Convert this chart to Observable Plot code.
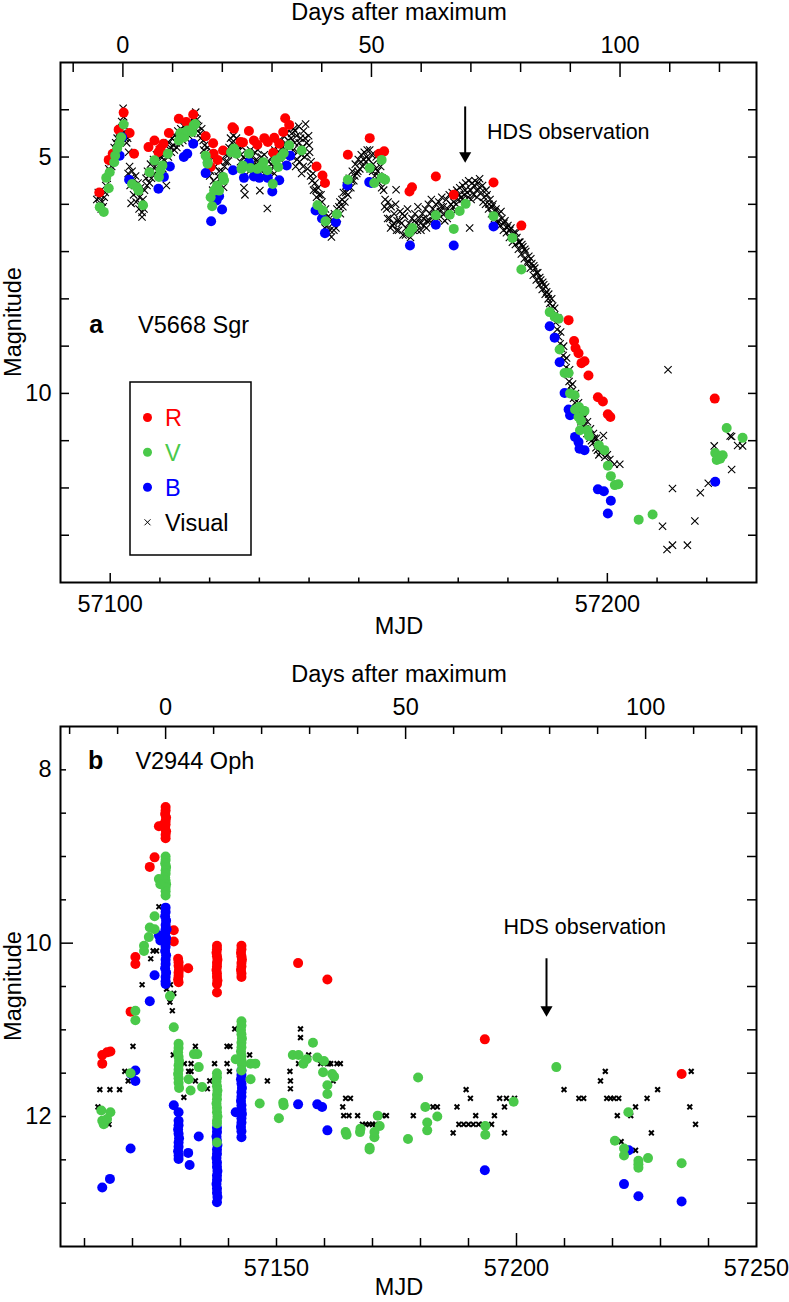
<!DOCTYPE html>
<html><head><meta charset="utf-8">
<script src="https://cdn.jsdelivr.net/npm/d3@7"></script>
<script src="https://cdn.jsdelivr.net/npm/@observablehq/plot@0.6"></script>
<style>
body{margin:0;background:#fff;}
#wrap{position:relative;width:789px;height:1302px;}
#pa,#pb{position:absolute;left:0;}
#pa{top:0;}#pb{top:652px;}
#ov{position:absolute;left:0;top:0;pointer-events:none;}
</style></head><body>
<div id="wrap"><div id="pa"></div><div id="pb"></div>
<svg id="ov" width="789" height="1302" font-family="Liberation Sans, Arial, sans-serif" font-size="23.5">
<text x="399" y="20" text-anchor="middle">Days after maximum</text>
<text x="399" y="634" text-anchor="middle">MJD</text>
<text transform="translate(21,322) rotate(-90)" text-anchor="middle">Magnitude</text>
<text x="399" y="682" text-anchor="middle">Days after maximum</text>
<text x="399" y="1295" text-anchor="middle">MJD</text>
<text transform="translate(21,986) rotate(-90)" text-anchor="middle">Magnitude</text>
<rect x="130" y="382" width="121" height="173" fill="none" stroke="black" stroke-width="1.5"/>
<circle cx="147.5" cy="417.5" r="4.5" fill="#ff0000"/><text x="165" y="426" fill="#ff0000">R</text>
<circle cx="147.5" cy="452.3" r="4.5" fill="#4ac94a"/><text x="165" y="461" fill="#4ac94a">V</text>
<circle cx="147.5" cy="487.3" r="4.5" fill="#0000ff"/><text x="165" y="496" fill="#0000ff">B</text>
<path d="M144.5,519.3L150.5,525.3M150.5,519.3L144.5,525.3" stroke="black" stroke-width="1"/><text x="165" y="531" fill="black">Visual</text>
</svg></div>
<script>
const RED = "#ff0000", GREEN = "#4ac94a", BLUE = "#0000ff";

// ---------- Panel a: V5668 Sgr ----------
const aT0 = 57102.55;
const aR = [[57097.8,5.75],[57099.7,5.06],[57100.5,4.93],[57101.7,4.42],[57102.7,4.06],[57103.9,4.49],[57104.8,4.93],[57107.7,4.79],[57108.9,4.65],[57109.7,4.9],[57110.1,4.82],[57110.7,4.72],[57111.8,4.49],[57113.8,4.19],[57115.3,4.26],[57116.7,4.1],[57119.2,4.56],[57120.2,5.21],[57120.7,4.71],[57120.8,4.93],[57121.6,5.06],[57122.7,4.86],[57124.6,4.37],[57124.9,4.4],[57126.2,4.68],[57126.7,4.69],[57127.9,4.45],[57128.9,4.65],[57129.6,4.74],[57131.0,4.6],[57131.7,4.68],[57132.8,4.91],[57133.0,4.59],[57134.0,4.72],[57134.8,4.47],[57135.2,4.18],[57136.0,4.32],[57141.5,5.2],[57142.7,5.39],[57143.2,5.55],[57147.8,4.95],[57152.2,4.6],[57154.1,4.93],[57155.1,4.88],[57160.2,5.73],[57160.7,5.64],[57165.5,5.41],[57169.1,5.8],[57177.1,5.54],[57182.7,6.45],[57192.2,8.45],[57193.3,8.89],[57193.6,9.04],[57194.2,9.15],[57194.8,9.36],[57195.4,9.32],[57196.2,9.62],[57198.1,10.08],[57199.1,10.17],[57200.1,10.44],[57200.6,10.5],[57221.6,10.11]];
const aV = [[57097.9,6.06],[57098.7,6.16],[57099.2,5.44],[57099.7,5.66],[57099.9,5.32],[57100.8,5.11],[57101.0,4.97],[57101.4,4.82],[57101.9,4.71],[57102.2,4.58],[57102.7,4.31],[57104.4,5.57],[57105.4,5.64],[57105.7,5.71],[57106.6,6.02],[57107.9,5.32],[57108.9,5.07],[57109.8,5.42],[57110.1,5.28],[57110.5,5.18],[57111.6,4.93],[57113.8,4.65],[57114.1,4.49],[57114.9,4.58],[57115.5,4.44],[57116.5,4.47],[57116.8,4.33],[57117.1,4.3],[57119.2,4.97],[57119.6,5.11],[57119.6,5.14],[57120.2,5.85],[57120.5,6.04],[57120.9,5.71],[57121.5,5.6],[57121.9,5.71],[57122.7,5.42],[57122.9,5.49],[57124.3,4.9],[57124.9,4.82],[57125.4,4.93],[57126.4,5.25],[57126.7,5.18],[57127.9,4.93],[57128.2,5.23],[57129.6,5.25],[57130.2,5.21],[57130.8,5.11],[57131.6,5.28],[57132.7,5.57],[57133.3,5.07],[57133.8,5.21],[57134.3,5.0],[57134.9,4.92],[57136.0,4.75],[57138.5,4.86],[57141.7,6.02],[57142.8,6.13],[57143.3,6.36],[57145.6,6.21],[57147.8,5.48],[57152.2,5.23],[57153.1,5.55],[57154.6,5.44],[57154.6,5.06],[57155.3,5.48],[57160.2,6.59],[57160.8,6.5],[57165.5,6.23],[57168.3,6.22],[57169.1,6.52],[57170.3,6.14],[57171.5,5.99],[57177.1,6.25],[57180.9,6.71],[57182.7,7.38],[57188.4,8.28],[57189.4,8.38],[57190.2,8.42],[57190.4,9.07],[57191.4,9.57],[57192.2,9.57],[57192.5,10.0],[57193.4,10.04],[57193.5,10.34],[57194.3,10.29],[57195.4,10.37],[57194.2,10.5],[57194.7,10.58],[57194.5,10.78],[57196.0,10.78],[57196.3,10.9],[57198.3,11.1],[57199.4,11.2],[57200.1,11.53],[57200.7,11.75],[57201.5,11.94],[57202.2,11.92],[57206.3,12.67],[57209.1,12.56],[57221.7,11.26],[57222.0,11.41],[57222.7,11.38],[57223.2,11.31],[57224.0,10.73],[57227.2,10.94]];
const aB = [[57101.9,4.97],[57102.4,4.58],[57103.8,5.48],[57109.7,5.67],[57110.8,5.42],[57112.0,5.2],[57114.8,5.0],[57115.5,4.93],[57116.7,4.72],[57119.2,5.34],[57120.3,6.36],[57121.4,5.92],[57121.9,5.83],[57122.5,6.11],[57124.7,5.28],[57126.9,5.44],[57127.9,5.11],[57128.9,5.41],[57130.0,5.44],[57131.7,5.44],[57132.6,5.73],[57134.0,5.49],[57135.5,5.18],[57136.2,4.97],[57141.3,6.13],[57142.6,6.3],[57143.2,6.61],[57145.4,6.38],[57147.7,5.6],[57152.1,5.53],[57152.5,5.55],[57160.3,6.87],[57165.5,6.43],[57169.1,6.87],[57177.1,6.47],[57188.4,8.58],[57189.4,8.82],[57190.4,9.34],[57191.4,9.99],[57192.2,10.34],[57192.5,10.46],[57193.5,10.92],[57194.2,11.03],[57194.4,11.17],[57195.4,11.2],[57198.1,12.03],[57199.3,12.07],[57200.7,12.27],[57200.1,12.54],[57221.7,11.87]];
const aVisual = [[57097.6,5.75],[57097.7,6.0],[57097.9,5.85],[57098.2,6.1],[57098.4,5.95],[57098.8,5.85],[57099.1,5.6],[57099.4,5.45],[57099.7,5.25],
[57100.2,5.1],[57100.5,4.95],[57100.8,4.8],[57101.1,4.7],[57101.4,4.6],[57101.7,4.5],[57102.0,4.4],[57102.3,4.25],[57102.6,3.97],[57102.7,4.15],[57102.9,4.35],[57103.1,4.5],[57103.3,4.7],[57103.5,4.6],
[57103.7,4.9],[57103.9,5.2],[57104.1,5.45],[57104.2,5.98],[57104.4,5.3],[57104.6,5.5],[57104.9,5.6],[57105.1,5.4],[57105.3,5.75],[57105.6,5.55],[57105.9,5.85],[57106.1,5.65],[57106.4,6.17],[57106.4,6.27],[57106.6,5.9],[57106.9,5.7],[57107.2,5.45],
[57107.5,5.3],[57107.8,5.4],[57108.1,5.15],[57108.4,5.3],[57108.7,5.05],[57109.0,5.2],[57109.3,4.95],[57109.6,5.1],[57109.9,4.85],[57110.2,5.0],[57110.5,4.85],[57110.8,5.05],[57111.1,4.75],[57111.3,5.6],[57111.5,4.9],[57111.8,4.7],
[57112.1,4.8],[57112.4,4.6],[57112.7,4.75],[57113.0,4.55],[57113.3,4.7],[57113.6,4.45],[57113.9,4.6],[57114.2,4.4],[57114.5,4.55],[57114.8,4.35],[57115.1,4.5],[57115.4,4.3],[57115.7,4.45],[57116.0,4.25],[57116.3,4.4],[57116.6,4.2],[57116.9,4.15],[57117.2,4.05],[57117.5,4.2],[57117.8,4.35],[57118.1,4.5],[57118.4,4.4],[57118.7,4.65],
[57119.0,4.75],[57119.3,4.9],[57119.6,4.8],[57119.9,5.1],[57120.2,5.3],[57120.5,5.0],[57120.8,5.5],[57121.1,5.2],[57121.4,5.7],[57121.7,5.4],[57122.0,5.1],[57122.3,5.5],[57122.8,5.64],[57123.0,5.2],[57123.3,4.95],[57123.6,5.1],
[57123.9,4.8],[57124.2,4.6],[57124.5,4.7],[57124.8,4.55],[57125.1,4.75],[57125.4,4.6],[57125.7,4.85],[57126.0,4.7],[57126.3,4.95],[57126.6,4.8],[57126.9,5.65],[57127.1,5.8],[57127.3,5.05],[57127.6,4.9],
[57127.9,5.1],[57128.2,4.85],[57128.5,5.0],[57128.8,5.15],[57129.1,4.9],[57129.4,5.05],[57129.7,4.85],[57130.0,5.2],[57130.1,5.71],[57130.4,5.0],[57130.7,5.15],[57131.0,4.95],[57131.3,5.25],[57131.6,6.09],[57131.9,5.1],[57132.2,5.3],[57132.5,5.0],[57132.8,5.2],[57133.1,4.85],[57133.4,5.0],[57133.7,4.75],[57134.0,4.9],[57134.3,4.65],[57134.6,4.8],[57134.9,4.55],[57135.2,4.7],
[57135.5,4.5],[57135.8,4.65],[57136.0,4.35],[57136.2,4.8],[57136.5,4.5],[57136.7,5.0],[57136.9,4.4],[57137.1,4.7],[57137.3,5.2],[57137.5,4.55],[57137.7,4.9],[57137.9,4.35],[57138.1,5.1],[57138.3,4.6],[57138.5,5.35],[57138.7,4.8],[57138.9,4.45],[57139.1,5.0],[57139.3,4.3],[57139.5,4.7],[57139.7,5.25],[57139.9,4.55],[57140.1,4.9],[57140.3,5.4],
[57140.6,5.5],[57140.9,5.7],[57141.2,5.55],[57141.5,5.85],[57141.8,5.65],[57142.1,6.0],[57142.4,5.8],[57142.7,6.15],[57143.0,6.3],[57143.3,6.1],[57143.6,6.45],[57143.9,6.25],[57144.2,6.55],[57144.5,6.69],[57144.8,6.4],[57145.1,6.2],[57145.4,6.5],[57145.7,6.3],[57146.0,6.05],[57146.3,6.2],[57146.6,5.9],
[57146.9,5.75],[57147.2,5.95],[57147.5,5.6],[57147.8,5.8],[57148.1,5.45],[57148.4,5.65],[57148.7,5.3],[57149.0,5.5],[57149.3,5.15],[57149.6,5.35],[57149.9,5.05],[57150.2,5.25],[57150.5,4.95],[57150.8,5.2],[57151.1,4.9],[57151.4,5.1],[57151.7,4.85],[57152.0,5.05],[57152.3,5.25],[57152.6,4.95],[57152.9,5.15],[57153.2,5.4],[57153.5,5.0],[57153.8,5.3],[57154.1,5.55],[57154.4,5.2],[57154.7,5.45],[57155.0,5.7],
[57155.3,5.9],[57155.6,6.1],[57155.9,5.95],[57156.2,6.3],[57156.5,6.05],[57156.8,6.45],[57157.1,6.2],[57157.4,6.0],[57157.5,5.69],[57157.7,6.35],[57158.0,6.55],[57158.3,6.15],[57158.6,6.4],[57158.9,6.65],[57159.2,6.25],[57159.5,6.5],[57159.8,6.1],[57160.1,6.4],[57160.4,6.7],[57160.7,6.3],[57161.0,6.55],[57161.3,6.2],[57161.6,6.4],[57161.9,6.05],
[57162.2,6.3],[57162.5,6.55],[57162.8,6.2],[57163.1,6.45],[57163.4,6.1],[57163.7,6.35],[57164.0,6.0],[57164.3,6.2],[57164.6,5.9],[57164.9,6.1],[57165.2,6.3],[57165.5,6.0],[57165.8,6.2],[57166.1,5.95],[57166.4,6.15],[57166.7,5.85],[57167.0,6.05],[57167.3,6.35],[57167.6,5.9],[57167.9,6.1],[57168.2,5.8],[57168.5,6.0],[57168.8,5.75],[57169.1,5.95],[57169.4,6.15],[57169.7,5.7],[57170.0,5.9],
[57170.3,5.65],[57170.6,5.85],[57170.9,5.6],[57171.2,5.8],[57171.5,5.55],[57171.8,5.75],[57172.1,5.5],[57172.3,6.5],[57172.5,5.7],[57172.8,5.55],[57173.1,5.8],[57173.4,5.5],[57173.7,5.7],[57174.0,5.55],[57174.3,5.46],[57174.6,5.75],[57174.9,5.6],[57175.2,5.85],[57175.5,6.0],[57175.8,5.8],
[57176.1,6.1],[57176.4,5.9],[57176.7,6.2],[57177.0,6.0],[57177.3,6.3],[57177.6,6.1],[57177.9,6.4],[57178.2,6.2],[57178.5,6.45],[57178.8,6.3],[57179.1,6.55],[57179.4,6.35],[57179.7,6.6],[57180.0,6.45],[57180.3,6.7],[57180.6,6.5],[57180.9,6.8],[57181.2,6.6],[57181.5,6.85],[57181.8,6.7],[57182.1,6.95],[57182.4,6.8],[57182.7,7.05],[57183.0,6.9],[57183.3,7.15],[57183.6,7.0],[57183.9,7.25],[57184.2,7.1],[57184.5,7.35],[57184.8,7.25],[57185.1,7.5],[57185.4,7.35],[57185.7,7.6],[57186.0,7.45],[57186.3,7.7],[57186.6,7.6],[57186.9,7.8],[57187.2,7.7],[57187.5,7.9],[57187.8,7.85],[57188.1,8.0],[57188.4,8.1],[57188.7,8.2],[57189.0,8.15],[57189.3,8.35],[57189.6,8.5],
[57189.9,8.65],[57190.2,8.8],[57190.5,8.95],[57190.8,9.05],[57191.1,9.2],[57191.4,9.3],[57191.7,9.45],[57192.0,9.6],[57192.3,9.75],[57192.6,9.85],[57192.9,9.95],[57193.2,10.1],[57193.5,10.2],[57193.8,10.3],[57194.1,10.4],[57194.4,10.5],[57194.7,10.6],[57195.0,10.55],[57195.3,10.7],[57195.6,10.75],[57195.9,10.85],[57196.2,10.8],[57196.5,10.95],[57196.8,11.0],[57197.1,11.05],[57197.4,10.95],[57197.7,11.15],[57198.0,11.2],[57198.3,11.3],[57198.6,11.25],[57199.2,10.89],[57199.5,11.35],[57200.0,11.3],[57200.5,11.4],[57201.4,11.5],[57202.5,11.5],
[57211.1,12.81],[57212.0,13.3],[57212.2,9.5],[57213.1,12.01],[57213.1,13.21],[57216.1,13.21],[57217.6,12.7],[57218.7,12.1],[57220.3,11.9],[57221.5,11.11],[57224.7,10.9],[57225.0,10.91],[57225.0,11.61],[57226.2,11.1],[57227.2,11.11],
[57097.3,5.9],[57098.0,5.8],[57098.6,6.05],[57099.0,5.75],[57100.0,5.3],[57100.3,5.2],[57101.2,4.9],[57101.9,4.6],[57102.4,4.5],[57103.0,4.6],[57103.6,5.35],[57104.0,5.6],[57104.7,5.8],[57105.2,5.95],[57105.8,6.1],[57106.2,6.0],[57106.8,6.1],[57107.4,5.6],[57107.9,5.55],[57108.3,5.45],[57108.9,5.35],[57109.5,5.3],[57110.0,5.15],[57110.6,5.25],[57111.0,4.95],[57111.7,5.0],[57112.3,4.9],[57112.9,4.85],[57113.4,4.8],[57114.0,4.7],[57114.6,4.65],[57115.2,4.6],[57115.8,4.55],[57116.4,4.5],[57117.0,4.3],[57117.6,4.45],[57118.2,4.6],[57118.8,4.85],[57119.4,5.05],[57120.0,5.4],[57120.6,5.7],[57121.2,5.55],[57121.9,5.3],[57122.5,5.3],[57123.2,5.1],[57123.8,4.95],[57124.4,4.85],[57125.0,4.9],[57125.6,4.75],[57126.2,5.1],[57126.8,5.0],[57127.5,5.25],[57128.0,5.3],[57128.6,5.2],[57129.2,5.3],[57129.8,5.1],[57130.5,5.3],[57131.1,5.35],[57131.8,5.4],[57132.4,5.15],[57133.0,5.35],[57133.6,5.1],[57134.2,5.05],[57134.8,4.95],[57135.4,4.85],[57135.9,4.95],[57136.4,4.6],[57136.8,4.85],[57137.2,4.45],[57137.6,5.05],[57138.0,4.7],[57138.4,4.95],[57138.8,5.2],[57139.2,4.6],[57139.6,4.95],[57140.0,4.75],[57140.4,5.1],[57140.8,5.35],[57141.4,5.7],[57142.0,5.8],[57142.6,5.95],[57143.2,6.5],[57143.8,6.6],[57144.4,6.35],[57145.0,6.55],[57145.6,6.1],[57146.2,5.95],[57146.8,6.05],[57147.4,5.75],[57148.0,5.65],[57148.6,5.5],[57149.2,5.4],[57149.8,5.3],[57150.4,5.1],[57151.0,5.05],[57151.6,5.0],[57152.2,4.85],[57152.8,5.3],[57153.4,5.25],[57154.0,5.4],[57154.6,5.65],[57155.2,6.05],[57155.8,6.3],[57156.4,6.5],[57157.0,6.4],[57157.6,6.55],[57158.2,6.35],[57158.8,6.2],[57159.4,6.65],[57160.0,6.55],[57160.6,6.5],[57161.2,6.35],[57161.8,6.55],[57162.4,6.4],[57163.0,6.3],[57163.6,6.5],[57164.2,6.35],[57164.8,6.25],[57165.4,6.15],[57166.0,6.3],[57166.6,6.05],[57167.2,6.2],[57167.8,6.3],[57168.4,6.15],[57169.0,6.05],[57169.6,6.0],[57170.2,5.8],[57170.8,5.9],[57171.4,5.7],[57172.0,5.85],[57172.6,5.9],[57173.2,5.6],[57173.8,5.85],[57174.4,5.65],[57175.0,5.95],[57175.6,5.7],[57176.2,6.0],[57176.8,6.05],[57177.4,6.15],[57178.0,6.35],[57178.6,6.15],[57179.2,6.4],[57179.8,6.5],[57180.4,6.55],[57181.0,6.65],[57181.6,6.6],[57182.2,6.8],[57182.8,6.85],[57183.4,6.95],[57184.0,7.2],[57184.6,7.15],[57185.2,7.3],[57185.8,7.45],[57186.4,7.55],[57187.0,7.65],[57187.6,7.75],[57188.2,7.9],[57188.8,8.0],[57189.4,8.2],[57190.0,8.4],[57190.6,8.7],[57191.2,9.0],[57191.8,9.25],[57192.4,9.5],[57193.0,9.8],[57193.6,10.0],[57194.2,10.2],[57194.8,10.35],[57195.4,10.5],[57196.0,10.6],[57196.6,10.75],[57197.2,10.85],[57197.8,10.95],[57198.4,11.05]];

const aMjdMinor = [57110,57120,57130,57140,57150,57160,57170,57180,57190,57210,57220];
const aMjdMajor = [57100,57200];
const aDayMinor = [-10,10,20,30,40,60,70,80,90,110,120];
const aDayMajor = [0,50,100];
const aMagTicks = [4,5,6,7,8,9,10,11,12,13];
const aMagLabels = [5,10];
const aHds = {x: 57171.4, y1: 3.94, tip: 5.12, tx: 57175.8, ty: 4.48};
const aName = {x: 57097.2, y: 8.56, nx: 57105.6, letter: "a", name: "V5668 Sgr"};

// ---------- Panel b: V2944 Oph ----------
const bT0 = 57126.9;
const bR = [[57126.9,8.43],[57126.9,8.47],[57126.8,8.51],[57127.0,8.55],[57126.9,8.59],[57126.9,8.63],[57126.8,8.67],[57127.0,8.71],[57126.9,8.75],[57126.9,8.79],[57125.5,8.65],[57126.3,8.64],
[57124.6,9.01],[57123.6,9.12],[57120.6,10.16],[57120.6,10.24],[57119.6,10.79],[57113.7,11.29],[57114.7,11.26],[57115.4,11.25],[57113.7,11.39],[57128.6,9.85],[57128.6,9.98],
[57129.5,10.18],[57129.6,10.22],[57129.6,10.26],[57129.7,10.3],[57129.6,10.34],[57129.6,10.38],[57129.5,10.42],[57129.6,10.45],[57131.6,10.29],
[57137.6,10.03],[57137.6,10.07],[57137.5,10.11],[57137.6,10.15],[57137.7,10.19],[57137.6,10.23],[57137.6,10.27],[57137.5,10.31],[57137.6,10.35],[57137.6,10.39],[57137.7,10.43],[57137.6,10.47],[57137.6,10.57],
[57142.7,10.03],[57142.7,10.07],[57142.6,10.11],[57142.7,10.15],[57142.8,10.19],[57142.7,10.23],[57142.7,10.27],[57142.6,10.31],[57142.7,10.35],[57142.7,10.39],
[57154.5,10.23],[57160.6,10.42],[57193.4,11.11],[57234.4,11.51]];
const bV = [[57126.9,9.0],[57126.9,9.04],[57126.8,9.08],[57127.0,9.12],[57126.9,9.16],[57126.9,9.2],[57126.8,9.24],[57126.9,9.28],[57127.0,9.32],[57126.9,9.36],[57126.9,9.4],[57126.9,9.45],[57125.5,9.26],[57125.8,9.32],
[57124.6,9.69],[57123.6,9.82],[57123.4,9.93],[57122.4,10.03],[57122.4,10.09],[57124.6,9.84],[57120.6,10.78],[57120.6,10.89],[57119.6,11.5],[57113.5,11.93],[57115.4,11.95],[57113.7,12.05],[57114.0,12.09],[57114.7,12.03],[57127.8,10.61],[57128.6,10.97],
[57129.6,11.16],[57129.6,11.21],[57129.5,11.26],[57129.6,11.31],[57129.7,11.36],[57129.6,11.41],[57129.6,11.46],[57129.5,11.51],[57129.6,11.56],[57129.6,11.61],[57129.7,11.67],
[57131.7,11.57],[57132.1,11.7],[57133.5,11.28],[57133.8,11.43],[57132.8,11.28],[57134.5,11.66],
[57137.6,11.5],[57137.6,11.55],[57137.5,11.6],[57137.6,11.65],[57137.7,11.7],[57137.6,11.75],[57137.6,11.8],[57137.5,11.85],[57137.6,11.9],[57137.6,11.95],[57137.7,12.0],[57137.6,12.05],[57137.6,12.08],[57137.6,12.3],
[57142.7,10.9],[57142.7,10.95],[57142.6,11.0],[57142.7,11.05],[57142.8,11.1],[57142.7,11.15],[57142.7,11.2],[57142.6,11.25],[57142.7,11.3],[57142.7,11.35],[57142.8,11.4],[57142.7,11.47],
[57141.5,11.34],[57144.6,11.39],[57145.6,11.39],[57144.6,11.57],[57146.5,11.85],[57150.5,12.02],[57151.4,11.84],[57151.5,11.87],
[57153.4,11.29],[57154.6,11.29],[57155.6,11.39],[57156.3,11.34],[57157.6,11.15],[57158.5,11.32],[57159.9,11.36],[57159.7,11.49],[57160.6,11.64],[57160.6,11.74],[57162.0,11.54],[57161.6,11.51],
[57164.4,12.18],[57164.6,12.21],[57167.4,12.18],[57167.5,12.14],[57169.4,12.36],[57169.4,12.38],[57170.4,12.24],[57170.4,12.18],[57171.1,11.99],[57171.5,12.11],[57177.4,12.26],[57179.5,11.55],[57181.0,11.89],[57181.4,12.07],[57181.4,12.16],[57183.5,12.0],[57193.5,12.11],[57193.5,12.21],[57199.4,11.83],[57208.3,11.43],
[57220.5,12.28],[57222.4,12.37],[57222.4,12.45],[57223.3,11.95],[57225.4,12.51],[57225.4,12.55],[57225.4,12.59],[57227.4,12.48],[57234.4,12.54]];
const bB = [[57126.9,9.59],[57126.9,9.64],[57126.8,9.69],[57127.0,9.74],[57126.9,9.79],[57126.9,9.84],[57126.8,9.89],[57127.0,9.94],[57126.9,9.99],[57126.9,10.04],[57126.8,10.09],[57127.0,10.14],[57126.9,10.19],[57126.9,10.24],[57126.8,10.29],[57127.0,10.34],[57126.9,10.39],[57126.9,10.44],[57126.9,10.47],[57125.5,9.91],[57125.8,9.97],[57127.1,9.84],
[57124.6,10.37],[57123.6,10.67],[57120.6,11.47],[57120.6,11.59],[57119.7,11.51],[57119.6,12.37],[57113.7,12.82],[57115.3,12.72],[57128.6,11.87],[57129.6,11.95],
[57129.6,12.05],[57129.6,12.1],[57129.5,12.15],[57129.6,12.2],[57129.7,12.25],[57129.6,12.3],[57129.6,12.35],[57129.5,12.4],[57129.6,12.45],[57129.6,12.49],[57131.6,12.42],[57131.9,12.56],[57133.8,12.23],
[57137.6,12.13],[57137.6,12.18],[57137.5,12.23],[57137.6,12.28],[57137.7,12.33],[57137.6,12.38],[57137.6,12.43],[57137.5,12.48],[57137.6,12.53],[57137.6,12.58],[57137.7,12.63],[57137.6,12.68],[57137.6,12.73],[57137.5,12.78],[57137.6,12.83],[57137.6,12.88],[57137.7,12.93],[57137.6,12.99],
[57142.7,11.47],[57142.7,11.52],[57142.6,11.57],[57142.7,11.62],[57142.8,11.67],[57142.7,11.72],[57142.7,11.77],[57142.6,11.82],[57142.7,11.87],[57142.7,11.92],[57142.8,11.97],[57142.7,12.02],[57142.7,12.07],[57142.6,12.12],[57142.7,12.17],[57142.7,12.24],[57141.5,11.95],
[57154.5,11.86],[57158.5,11.86],[57159.5,11.89],[57160.6,12.16],[57193.4,12.62],[57222.4,12.78],[57223.4,12.39],[57225.4,12.92],[57234.4,12.98]];
const bVisual = [[57125.5,9.58],[57127.1,9.58],[57124.3,10.09],[57125.0,10.09],[57123.8,10.18],[57122.0,10.48],[57127.1,10.53],[57127.9,10.48],[57128.6,10.58],[57127.8,10.68],[57128.3,10.78],[57120.1,11.19],[57118.4,11.48],[57119.1,11.59],[57113.2,11.69],[57115.3,11.69],[57117.3,11.69],[57112.8,11.89],[57115.1,12.09],[57128.5,11.29],[57130.8,11.39],[57132.2,11.39],[57131.7,11.48],[57132.2,11.48],[57133.1,11.19],[57133.1,11.59],[57135.6,11.68],[57136.1,11.59],[57130.7,11.78],[57137.1,11.39],[57139.7,11.19],[57140.3,11.19],[57139.7,11.39],[57140.2,11.48],[57141.3,10.99],[57142.9,10.99],[57144.4,11.29],[57148.1,11.59],[57152.8,11.48],[57152.9,11.59],[57152.9,11.68],[57155.0,10.99],[57155.0,11.09],[57156.7,11.29],[57154.6,11.39],[57159.2,11.39],[57160.6,11.39],[57162.6,11.39],[57160.9,11.39],[57161.3,11.39],[57163.3,11.39],[57159.9,11.49],[57161.8,11.59],[57164.4,11.79],[57165.4,11.79],[57163.8,11.89],[57164.0,11.99],[57165.1,11.99],[57166.9,11.99],[57167.9,12.09],[57168.6,12.09],[57169.3,12.09],[57170.0,12.09],[57170.6,12.09],[57172.0,11.99],[57172.9,11.99],[57178.5,11.99],[57182.6,11.89],[57183.5,11.89],[57186.8,12.19],[57187.6,11.89],[57188.0,12.09],[57189.0,12.09],[57190.0,12.09],[57191.0,12.09],[57192.1,12.09],[57193.0,12.09],[57194.8,12.09],[57189.5,11.69],[57190.4,11.79],[57191.5,11.99],[57195.4,11.99],[57196.5,11.79],[57197.9,11.79],[57199.6,11.79],[57197.5,11.89],[57197.5,12.19],[57209.9,11.69],[57213.0,11.79],[57214.0,11.79],[57217.5,11.59],[57218.5,11.48],[57218.8,11.79],[57219.6,11.79],[57220.3,11.79],[57221.3,11.79],[57221.0,11.99],[57223.8,11.99],[57224.8,11.89],[57221.8,12.29],[57224.8,12.39],[57227.2,11.79],[57228.1,12.19],[57229.4,11.69],[57236.4,11.48],[57236.1,11.89],[57237.3,12.09]];

const bMjdMinor = [57110,57120,57130,57140,57150,57160,57170,57180,57190,57210,57220,57230,57240];
const bMjdMajor = [57200];
const bMjdLabels = [57150,57200,57250];
const bDayMinor = [-20,-10,10,20,30,40,60,70,80,90,110,120];
const bDayMajor = [0,50,100];
const bMagMinor = [8,8.5,9,9.5,10.5,11,11.5,12,12.5,13];
const bMagMajor = [10];
const bMagRight = [8,8.5,9,9.5,10,10.5,11,11.5,12,12.5,13];
const bMagLabels = [8,10,12];
const bHds = {x: 57206.25, y1: 10.18, tip: 10.85, tx: 57214.2, ty: 9.81, anchor: "middle"};
const bName = {x: 57112.3, y: 7.9, nx: 57120.6, letter: "b", name: "V2944 Oph"};

const W = 696, H = 520;
const FONT = "'Liberation Sans', Arial, sans-serif";
const XY = {x: d => d[0], y: d => d[1]};

function panel(o) {
  const k = {stroke: "black", strokeWidth: 1.5};
  return Plot.plot({
    width: 789, height: o.height, marginTop: o.marginTop, marginBottom: o.marginBottom,
    marginLeft: 60, marginRight: 33,
    x: {domain: o.xDomain},
    y: {domain: o.yDomain, reverse: true},
    style: {fontFamily: FONT, fontSize: "23.5px", color: "black", background: "white", overflow: "visible"},
    marks: [
      Plot.dot(o.vis, {...XY, symbol: "times", r: o.visR, stroke: "black", strokeWidth: o.visW}),
      Plot.dot(o.R, {...XY, r: 5, fill: RED}),
      Plot.dot(o.B, {...XY, r: 5, fill: BLUE}),
      Plot.dot(o.V, {...XY, r: 5, fill: GREEN}),
      Plot.ruleX(o.xMinor, {x: d => d, insetTop: H - o.xMinorLen, ...k}),
      Plot.ruleX(o.xMajor, {x: d => d, insetTop: H - o.xMajorLen, ...k}),
      Plot.ruleX(o.dayMinor, {x: d => o.t0 + d, insetBottom: H - o.dayMinorLen, ...k}),
      Plot.ruleX(o.dayMajor, {x: d => o.t0 + d, insetBottom: H - o.dayMajorLen, ...k}),
      Plot.ruleY(o.leftMinor, {y: d => d, insetRight: W - o.leftMinorLen, ...k}),
      Plot.ruleY(o.leftMajor, {y: d => d, insetRight: W - o.leftMajorLen, ...k}),
      Plot.ruleY(o.right, {y: d => d, insetLeft: W - o.rightLen, ...k}),
      Plot.frame({stroke: "black", strokeWidth: 2}),
      Plot.axisX({ticks: o.xLabels, anchor: "bottom", tickSize: 0, tickPadding: 13, label: null, tickFormat: d => String(d)}),
      Plot.axisX({ticks: o.dayMajor.map(d => o.t0 + d), anchor: "top", tickSize: 0, tickPadding: o.topPad, label: null, tickFormat: d => String(Math.round(d - o.t0))}),
      Plot.axisY({ticks: o.yLabels, anchor: "left", tickSize: 0, tickPadding: 9, label: null, tickFormat: d => String(d)}),
      Plot.ruleX([o.hds], {x: "x", y1: "y1", y2: d => d.tip - (d.tip - d.y1) * 0.12, stroke: "black", strokeWidth: 2}),
      Plot.dot([o.hds], {x: "x", y: "tip", symbol: "triangle", rotate: 180, r: 4.5, fill: "black", dy: -7}),
      Plot.text([o.hds], {x: "tx", y: "ty", text: () => "HDS observation", textAnchor: o.hds.anchor || "start", fontSize: 21.5}),
      Plot.text([o.name], {x: "x", y: "y", text: "letter", fontWeight: "bold", fontSize: 25, textAnchor: "middle"}),
      Plot.text([o.name], {x: "nx", y: "y", text: "name", fontSize: 23.5, textAnchor: "start"})
    ]
  });
}

document.getElementById("pa").append(panel({
  height: 652, marginTop: 62, marginBottom: 70, xDomain: [57090, 57230], yDomain: [3, 14], t0: aT0,
  vis: aVisual, visR: 3.4, visW: 1.1, R: aR, V: aV, B: aB,
  xMinor: aMjdMinor, xMajor: aMjdMajor, xMinorLen: 4.5, xMajorLen: 9,
  dayMinor: aDayMinor, dayMajor: aDayMajor, dayMinorLen: 10, dayMajorLen: 15,
  leftMinor: aMagTicks, leftMajor: [], leftMinorLen: 9, leftMajorLen: 9,
  right: aMagTicks, rightLen: 8,
  xLabels: aMjdMajor, yLabels: aMagLabels, topPad: 10, hds: aHds, name: aName
}));
document.getElementById("pb").append(panel({
  height: 650, marginTop: 74, marginBottom: 56, xDomain: [57105, 57250], yDomain: [7.5, 13.5], t0: bT0,
  vis: bVisual, visR: 2.3, visW: 2, R: bR, V: bV, B: bB,
  xMinor: bMjdMinor, xMajor: bMjdMajor, xMinorLen: 8, xMajorLen: 13,
  dayMinor: bDayMinor, dayMajor: bDayMajor, dayMinorLen: 8, dayMajorLen: 13,
  leftMinor: bMagMinor, leftMajor: bMagMajor, leftMinorLen: 6, leftMajorLen: 13,
  right: bMagRight, rightLen: 9,
  xLabels: bMjdLabels, yLabels: bMagLabels, topPad: 12, hds: bHds, name: bName
}));
</script>
</body></html>
